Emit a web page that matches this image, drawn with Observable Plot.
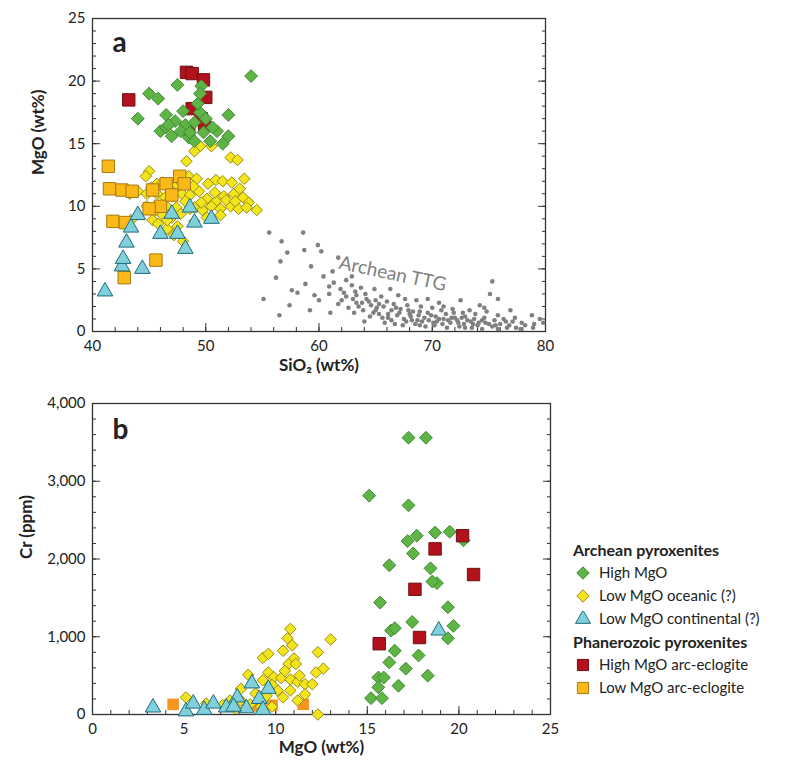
<!DOCTYPE html>
<html><head><meta charset="utf-8">
<script src="https://cdn.jsdelivr.net/npm/d3@7"></script>
<script src="https://cdn.jsdelivr.net/npm/@observablehq/plot@0.6"></script>
<style>
body{margin:0;background:#fff;font-family:Lato,"Noto Sans",sans-serif;}
#wrap{position:relative;width:794px;height:761px;}
.pa{position:absolute;left:0;top:0}
.pb{position:absolute;left:0;top:385px}
#legend{position:absolute;left:573px;top:538px;font-size:15px;color:#222;line-height:23px}
#legend .h{font-weight:bold;font-size:16px}
#legend .it{display:flex;align-items:center;padding-left:2px}
#legend svg{margin-right:8px}
</style></head><body><div id="wrap"><div id="A" class="pa"></div><div id="B" class="pb"></div><div id="legend"></div></div>
<script>
// Panel a: SiO2 vs MgO
const aHigh=[[54,20.4],[45,19],[45.8,18.6],[47.5,19.7],[49.6,19.6],[44,17],[46.5,17.3],[47.3,16.8],[48.2,16.5],[49.5,17.5],[52,17.3],[46,16],[46.5,16.3],[47,15.6],[47.8,16],[48.5,15.5],[49,15.2],[49.8,15.9],[50.4,15.2],[51,16],[51.5,15],[52,15.6],[49.3,18.2],[49.5,19],[50,17],[48,17.6],[49,16.7],[46.7,16.5],[48.6,15.9],[50.6,16.3]];
const aRed=[[43.2,18.5],[48.3,20.7],[48.8,20.6],[49.8,20.1],[50,18.7],[48.8,17.8],[49.6,17],[48.5,16.2],[49.9,16.5]];
const aLow=[[49.5,14.8],[49,14.4],[50.5,14.8],[52.2,13.9],[52.8,13.7],[48.3,13.6],[45,12.8],[44.7,12.4],[45.7,11.8],[46.8,11.5],[47.5,11.7],[48.5,12.4],[49.2,12.2],[50.2,11.8],[50.9,12.1],[51.5,12],[52.3,11.9],[53.4,12.2],[44,11.2],[44.8,11],[45.7,11],[46.4,10.7],[47.1,10.8],[47.9,11],[48.6,10.9],[49.4,11.2],[50.1,10.6],[50.9,10.4],[51.6,10.8],[52.5,11],[53.3,10.7],[53.8,10.3],[43.3,11],[44.8,10],[45.6,9.7],[46.5,10],[47.4,9.9],[48.2,10.4],[49,9.9],[49.7,9.7],[50.5,10],[51.3,9.8],[52.2,10],[52.9,9.8],[53.6,9.9],[54.5,9.7],[43.4,8.9],[45.3,8.9],[46.2,9.3],[47,9.1],[47.8,9.4],[48.6,9.8],[50.1,9.1],[51.3,9.3],[45.8,8.6],[46.6,8.2],[47.5,8.4],[49,8.8],[47.2,7.7],[48,7.2],[46.6,8.9],[51.8,10.5],[52.6,10.4],[49.6,10.3],[48.9,11.6],[47.6,12.1],[46.2,11.9],[45.2,11.5],[50.8,11.1],[53,11.4]];
const aOrange=[[41.4,13.2],[41.5,11.4],[42.6,11.3],[43.5,11.2],[45.3,11.3],[46.5,11.8],[47.7,12.4],[48.1,11.8],[41.8,8.8],[42.9,8.7],[46,10],[45.6,5.7],[42.8,4.3],[45,9.8],[47,10.9]];
const aBlue=[[41.1,3.2],[42.6,5.2],[42.7,5.8],[43,7.1],[43.4,8.3],[44,9.3],[44.4,5],[46,7.8],[47.5,7.8],[48.2,6.6],[47,9.4],[49,8.7],[50.5,9],[48.6,9.9]];
const ttg=[[55.6,7.9],[56.7,7.2],[57.2,6.3],[58.7,6.5],[58.6,7.9],[59.9,6.9],[60.2,6.4],[61.7,5.9],[58.8,3.8],[59.2,1.7],[59.6,2.9],[56.2,4.3],[56.6,5.6],[55.1,2.6],[56.5,1.3],[57.6,3.3],[60.4,4.4],[60.9,3.6],[61.3,3.9],[61.9,3.4],[62.4,4.1],[62.9,3.7],[63.2,3.2],[63.7,3.5],[64.2,2.6],[61.7,2.2],[62.4,2.8],[63.3,2.3],[63.9,1.7],[64.6,2.1],[65.1,1.9],[65.5,2.8],[66,2.4],[66.6,2.2],[67.2,1.8],[67.8,2.1],[68.3,1.6],[64.5,1.2],[65.3,1.4],[66.1,1.1],[66.9,1.3],[67.5,1],[68.1,1.2],[68.7,0.9],[69.3,1.1],[69.9,1.3],[70.4,0.8],[71,1],[71.6,0.7],[72.2,0.9],[72.8,0.6],[73.4,0.8],[74,0.5],[74.7,0.7],[75.3,0.4],[76,0.6],[76.8,0.5],[77.4,0.3],[78.2,0.5],[79,0.6],[79.5,1],[60.9,3],[62.2,3.1],[63.3,2.9],[64.1,3],[65,2.5],[65.7,2],[66.4,1.7],[67.1,1.5],[68,1.4],[68.9,1.6],[69.6,1.5],[70.3,1.2],[71.2,1.4],[72,1.1],[72.9,1.2],[73.7,1],[74.6,1.1],[75.5,0.9],[76.3,1],[77.1,0.8],[77.9,0.7],[66.7,0.6],[67.4,0.5],[68.5,0.6],[69.4,0.4],[70.2,0.5],[71.3,0.3],[72.4,0.4],[73.5,0.3],[74.4,0.2],[75.8,0.2],[63.1,1.5],[64,0.8],[65.8,0.7],[66.3,3.4],[67,2.9],[68.6,2.5],[69,2],[70,1.9],[70.8,1.7],[71.8,1.8],[72.7,1.5],[73.8,1.4],[74.8,1.6],[75.8,1.3],[72.5,2.5],[74.2,2.1],[75.3,4],[75.1,3],[77.3,1.1],[78.8,1.3],[76.9,1.7],[75.8,2.6],[74.6,1.9],[62.9,4.4],[61.2,4.8],[64.9,3.4],[69.6,2.6],[70.6,2.3],[67.6,2.6],[66.1,1.4],[65,1.7],[63.8,2.3],[62.6,1.9],[68.2,0.9],[69.1,0.8],[70.6,1],[71.7,1.1],[72.3,0.7],[73.1,0.9],[74.1,0.7],[75,0.6],[76.5,0.8],[77.8,0.2],[78.9,0.3],[79.8,0.7],[71,2],[73.3,1.7],[58.1,3.1],[57.4,2.1],[60,2.5],[61,1.5],[59.3,5.2],[63.5,2],[64.8,1.5],[65.6,1.1],[66.8,1.9],[67.9,1.7],[68.8,1.3],[69.7,0.9],[70.9,0.6],[71.9,1.5],[72.6,1.1],[73.6,0.6],[62,2.5],[63,2.6],[64.4,2.4],[65.3,2.2],[66.4,0.9],[67.7,0.8],[68.9,0.5],[70.1,0.7],[71.4,0.9],[72.9,0.3],[74.4,0.9],[75.6,0.5],[76.6,0.3]];
// Panel b: MgO vs Cr
const bHigh=[[17.25,3560],[18.2,3560],[15.1,2815],[17.25,2690],[17.7,2300],[17.2,2230],[18.7,2340],[19.5,2350],[20.25,2240],[17.5,2070],[16.2,1920],[18.45,1880],[18.8,1690],[18.55,1710],[15.7,1440],[19.4,1380],[17.45,1190],[19.7,1140],[16.3,1080],[16.5,1110],[19.4,980],[16.5,820],[17.8,760],[16.2,670],[17.1,590],[18.3,500],[15.6,475],[15.9,475],[16.7,370],[15.6,350],[15.2,210],[15.8,210]];
const bRed=[[20.2,2300],[18.7,2130],[20.8,1800],[17.6,1610],[17.85,990],[15.65,910]];
const bLow=[[10.8,1100],[10.65,980],[10.9,890],[13,965],[10.4,820],[9.3,730],[9.6,780],[12.3,800],[11,720],[10.7,650],[11.1,650],[9.6,540],[8.5,510],[12.6,590],[12.2,540],[9.9,480],[10.3,470],[10.8,450],[11.2,420],[11.6,390],[12,390],[9.3,440],[8.1,330],[10.1,310],[10.8,310],[5.1,220],[6.2,140],[7.1,120],[7.5,180],[11.2,180],[8.6,130],[9.2,100],[9.8,100],[12.3,0],[10.5,560],[11.3,500],[9.8,380],[8.9,270],[10.4,220],[8.1,180],[11.6,260],[7.8,80],[9.5,240]];
const bBlue=[[3.3,90],[5.1,40],[5.5,140],[6.1,60],[6.6,140],[7.3,90],[7.9,220],[8.4,80],[8.7,400],[9.1,200],[9.6,330],[9.3,60],[7.7,100],[18.9,1080]];
const bOrange=[[4.4,130],[8.8,110],[9.8,120],[11.5,130]];

const S={
 high:{symbol:"diamond2",fill:"#5fb446",stroke:"#3f8a30",r:5.8},
 red:{symbol:"square",fill:"#b3121c",stroke:"#6e1015",r:7},
 low:{symbol:"diamond2",fill:"#f3e51c",stroke:"#9c8a12",r:5.2},
 blue:{symbol:"triangle",fill:"#80d0dc",stroke:"#1e6b78",r:5.8},
 orange:{symbol:"square",fill:"#fbb917",stroke:"#a57a14",r:7}
};
const F="Lato, 'Noto Sans', sans-serif";
function pts(data,s,extra={}){return Plot.dot(data,{x:d=>d[0],y:d=>d[1],symbol:()=>s.symbol,fill:s.fill,stroke:s.stroke,strokeWidth:1,r:s.r,...extra});}
function axes(xMaj,xMin,yMaj,yMin,xfmt,yfmt){
 return [
  Plot.axisX(xMin,{tickSize:4,dy:-4,text:null,stroke:"#333"}),
  Plot.axisX(xMaj,{tickSize:8,dy:-8,text:null,stroke:"#333"}),
  Plot.axisX(xMaj,{tickSize:0,tickPadding:9,tickFormat:xfmt,fontSize:15}),
  Plot.axisY(yMin,{tickSize:4,dx:4,text:null,stroke:"#333"}),
  Plot.axisY(yMaj,{tickSize:8,dx:8,text:null,stroke:"#333"}),
  Plot.axisY(yMaj,{tickSize:0,tickPadding:7,tickFormat:yfmt,fontSize:15}),
  Plot.axisY(yMin,{anchor:"right",tickSize:4,dx:-4,text:null,stroke:"#333"}),
  Plot.axisY(yMaj,{anchor:"right",tickSize:8,dx:-8,text:null,stroke:"#333"}),
  Plot.frame({stroke:"#333",strokeWidth:1.3})
 ];
}
const A=Plot.plot({width:560,height:380,marginLeft:92,marginRight:15,marginTop:18,marginBottom:49,
 style:{fontFamily:F,fontSize:"15px",color:"#222"},
 x:{domain:[40,80],label:null},y:{domain:[0,25],label:null},
 symbol:{type:"identity"},
 marks:[
  ...axes(d3.range(40,81,10),d3.range(40,81,2),d3.range(0,26,5),d3.range(0,26,1),d=>d,d=>d),
  Plot.dot(ttg,{x:d=>d[0],y:d=>d[1],r:2.3,fill:"#808080"}),
  Plot.text(["Archean TTG"],{x:66.5,y:4.6,rotate:12,fontSize:19,fill:"#808080"}),
  pts(aLow,S.low),pts(aOrange,S.orange),pts(aBlue,S.blue),pts(aRed,S.red),pts(aHigh,S.high),
  Plot.text(["a"],{frameAnchor:"top-left",dx:20,dy:14,fontSize:28,fontWeight:"bold",fill:"#222"}),
  Plot.text(["SiO₂ (wt%)"],{frameAnchor:"bottom",dy:39,fontSize:17,fontWeight:"bold",fill:"#222"}),
  Plot.text(["MgO (wt%)"],{frameAnchor:"left",dx:-54,rotate:-90,fontSize:17,fontWeight:"bold",fill:"#222"})
 ]});
document.getElementById("A").append(A);
const B=Plot.plot({width:560,height:376,marginLeft:92,marginRight:10,marginTop:18,marginBottom:47,
 style:{fontFamily:F,fontSize:"15px",color:"#222"},
 x:{domain:[0,25],label:null},y:{domain:[0,4000],label:null},
 symbol:{type:"identity"},
 marks:[
  ...axes(d3.range(0,26,5),d3.range(0,26,1),d3.range(0,4001,1000),d3.range(0,4001,200),d=>d,d3.format(",")),
  Plot.dot(bOrange,{x:d=>d[0],y:d=>d[1],symbol:()=>"square",fill:"#f7941d",r:6.5}),
  pts(bLow,S.low),pts(bBlue,S.blue),pts(bHigh,S.high),pts(bRed,S.red),
  Plot.text(["b"],{frameAnchor:"top-left",dx:20,dy:16,fontSize:28,fontWeight:"bold",fill:"#222"}),
  Plot.text(["MgO (wt%)"],{frameAnchor:"bottom",dy:38,fontSize:17,fontWeight:"bold",fill:"#222"}),
  Plot.text(["Cr (ppm)"],{frameAnchor:"left",dx:-66,rotate:-90,fontSize:17,fontWeight:"bold",fill:"#222"})
 ]});
document.getElementById("B").append(B);
// legend
const L=[["h","Archean pyroxenites"],["high","High MgO"],["low","Low MgO oceanic (?)"],["blue","Low MgO continental (?)"],["h","Phanerozoic pyroxenites"],["red","High MgO arc-eclogite"],["orange","Low MgO arc-eclogite"]];
const leg=document.getElementById("legend");
const sym={diamond2:d3.symbolDiamond2,square:d3.symbolSquare,triangle:d3.symbolTriangle};
for(const [k,t] of L){
 const div=document.createElement("div");
 if(k==="h"){div.className="h";div.textContent=t;}
 else{div.className="it";const s=S[k];const r=k==="red"||k==="orange"?6.3:5.6;
  div.innerHTML=`<svg width="16" height="16"><path transform="translate(8,8)" d="${d3.symbol(sym[s.symbol],Math.PI*r*r)()}" fill="${s.fill}" stroke="${s.stroke}"/></svg>`;
  div.append(t);}
 leg.append(div);
}
</script></body></html>
